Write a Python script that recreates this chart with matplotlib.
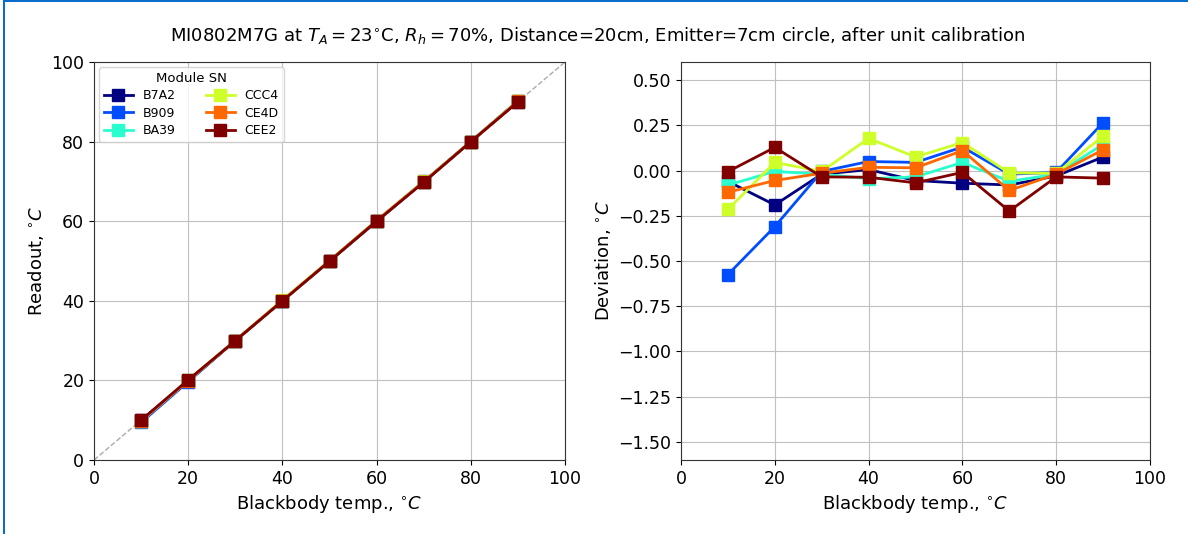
import numpy as np
import matplotlib
matplotlib.use("Agg")
import matplotlib.pyplot as plt
from matplotlib.patches import Rectangle

temps = [10, 20, 30, 40, 50, 60, 70, 80, 90]
modules = ["B7A2", "B909", "BA39", "CCC4", "CE4D", "CEE2"]
dev_B7A2 = [-0.06, -0.19, -0.02, 0.005, -0.055, -0.07, -0.08, -0.03, 0.075]
dev_B909 = [-0.575, -0.31, -0.005, 0.05, 0.045, 0.13, -0.02, -0.01, 0.265]
dev_BA39 = [-0.08, -0.005, -0.02, -0.045, -0.035, 0.045, -0.06, -0.02, 0.145]
dev_CCC4 = [-0.215, 0.045, -0.005, 0.178, 0.075, 0.155, -0.013, -0.015, 0.19]
dev_CE4D = [-0.12, -0.055, -0.015, 0.018, 0.015, 0.11, -0.11, -0.02, 0.115]
dev_CEE2 = [-0.006, 0.128, -0.035, -0.037, -0.068, -0.01, -0.224, -0.035, -0.042]
deviations = [dev_B7A2, dev_B909, dev_BA39, dev_CCC4, dev_CE4D, dev_CEE2]

colors = plt.cm.jet(np.linspace(0, 1, len(modules)))

fig = plt.figure(figsize=(11.88, 5.34), dpi=100)
ax1 = fig.add_axes([94/1188, 1-460/534, (565-94)/1188, (460-62)/534])
ax2 = fig.add_axes([681/1188, 1-460/534, (1150-681)/1188, (460-62)/534])

t = np.array(temps, dtype=float)
ax1.plot([0, 100], [0, 100], '--', color='#aaaaaa', lw=1, zorder=1)
for name, dev, c in zip(modules, deviations, colors):
    readout = t + np.array(dev)
    ax1.plot(t, readout, '-s', color=c, lw=2, ms=8, label=name, zorder=3)
    ax2.plot(t, dev, '-s', color=c, lw=2, ms=8, label=name, zorder=3)

ax1.set_xlim(0, 100)
ax1.set_ylim(0, 100)
ax1.set_xticks(range(0, 101, 20))
ax1.set_yticks(range(0, 101, 20))
ax1.set_xlabel(r"Blackbody temp., $^{\circ}C$", fontsize=13)
ax1.set_ylabel(r"Readout, $^{\circ}C$", fontsize=13)
ax1.grid(True, color='#c0c0c0', lw=0.8)
ax1.set_axisbelow(True)
leg = ax1.legend(title="Module SN", ncol=2, fontsize=9, title_fontsize=9.5,
                 loc='upper left', handlelength=2.3, columnspacing=2.4,
                 labelspacing=0.35, borderaxespad=0.4)

ax2.set_xlim(0, 100)
ax2.set_ylim(-1.6, 0.6)
ax2.set_xticks(range(0, 101, 20))
ax2.set_yticks(np.arange(-1.5, 0.51, 0.25))
ax2.set_yticklabels([f"{v:.2f}".replace('-', '\u2212') for v in np.arange(-1.5, 0.51, 0.25)])
ax2.set_xlabel(r"Blackbody temp., $^{\circ}C$", fontsize=13)
ax2.set_ylabel(r"Deviation, $^{\circ}C$", fontsize=13)
ax2.grid(True, color='#c0c0c0', lw=0.8)
ax2.set_axisbelow(True)

for ax in (ax1, ax2):
    ax.tick_params(labelsize=12.5)
    for s in ax.spines.values():
        s.set_color('#333333')

fig.suptitle(r"MI0802M7G at $T_A = 23^{\circ}$C, $R_h = 70\%$, Distance=20cm, Emitter=7cm circle, after unit calibration",
             fontsize=13, y=1-35/534, va='center', x=598/1188)

fig.add_artist(Rectangle((3/1188, -0.1), 2/1188, 1.2, transform=fig.transFigure,
                         color='#0a6ec8', lw=0))
fig.add_artist(Rectangle((3/1188, 1-2/534), 1.0, 2/534, transform=fig.transFigure,
                         color='#0a6ec8', lw=0))

fig.savefig("out.png", dpi=100)
